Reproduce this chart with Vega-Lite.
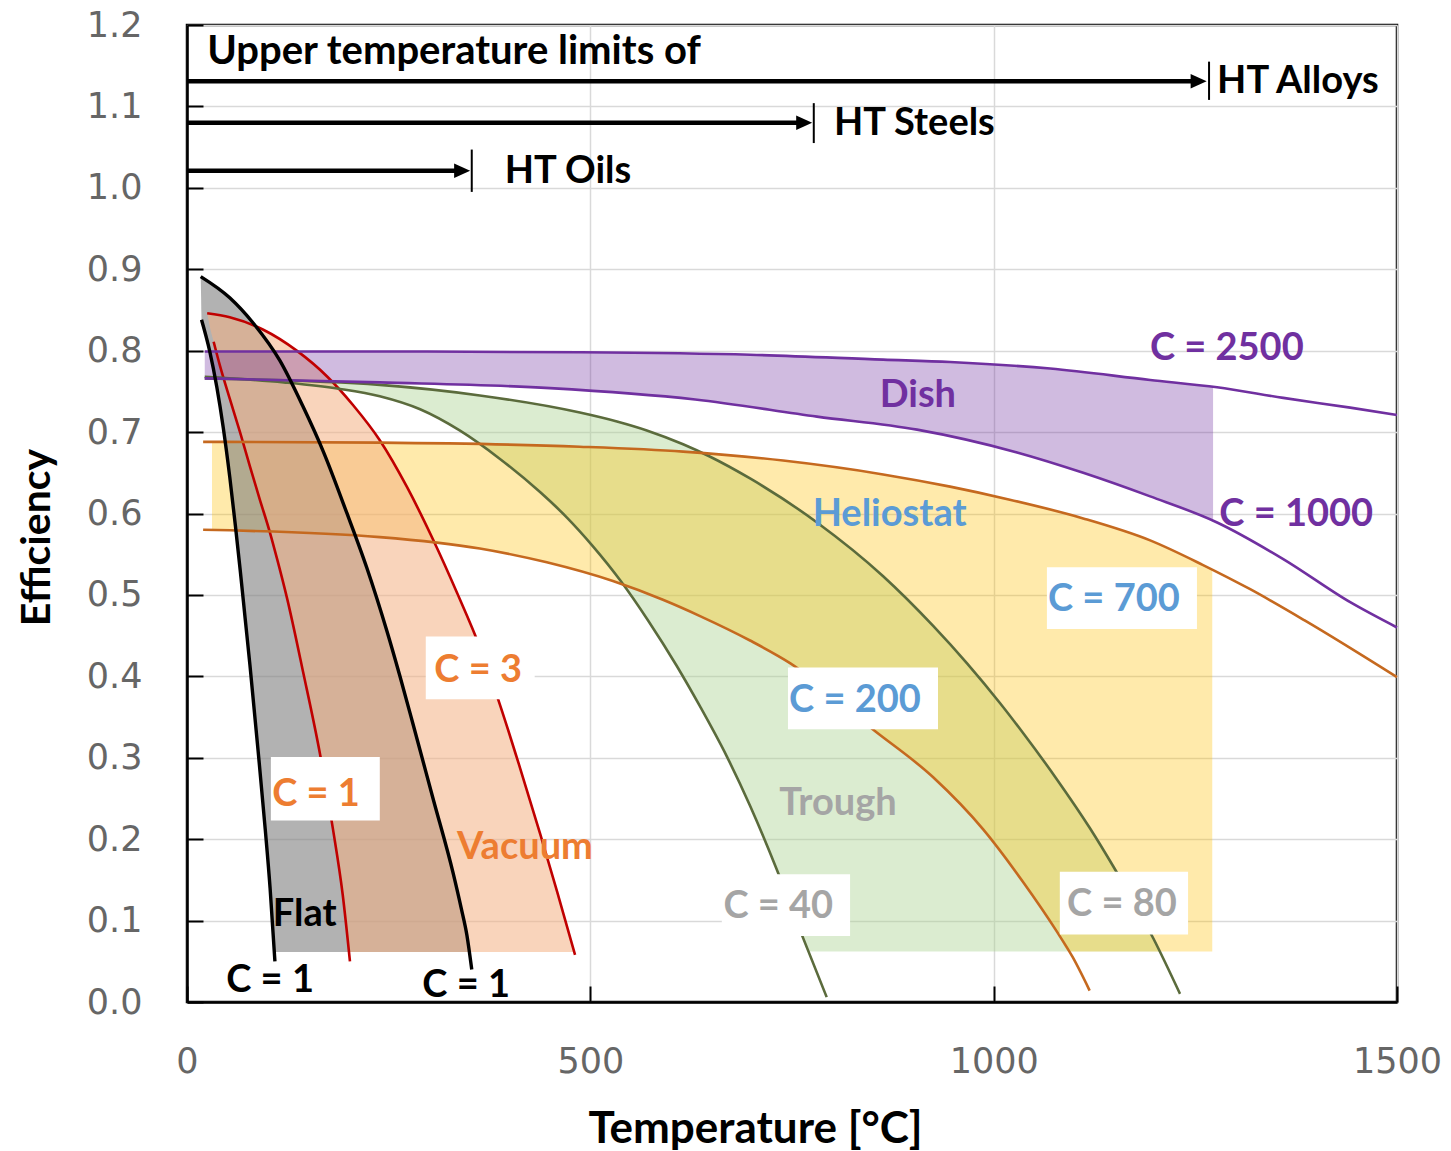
{
  "$schema": "https://vega.github.io/schema/vega-lite/v6.json",
  "autosize": {"type": "none"},
  "width": 1210,
  "height": 977,
  "padding": {"left": 187, "top": 25, "right": 54, "bottom": 149},
  "background": "white",
  "config": {
    "view": {"stroke": "#000000", "strokeWidth": 2.5},
    "axisX": {
      "tickCount": 3,
      "format": "d",
      "grid": true, "gridColor": "#d9d9d9", "gridWidth": 1.5,
      "domainColor": "#000000", "domainWidth": 2.5,
      "tickColor": "#000000", "tickWidth": 2, "tickSize": -16,
      "labelPadding": 58, "labelFont": "DejaVu Sans", "labelFontSize": 35, "labelColor": "#666666",
      "labelFlush": false, "labelOverlap": false,
      "titleFont": "Lato", "titleFontSize": 44, "titleFontWeight": "bold", "titleColor": "#000000", "titlePadding": 28,
      "titleX": 568
    },
    "axisY": {
      "tickCount": 12,
      "format": ".1f",
      "grid": true, "gridColor": "#d9d9d9", "gridWidth": 1.5,
      "domainColor": "#000000", "domainWidth": 2.5,
      "tickColor": "#000000", "tickWidth": 2, "tickSize": -16,
      "labelPadding": 61, "labelFont": "DejaVu Sans", "labelFontSize": 35, "labelColor": "#666666",
      "labelFlush": false, "labelOverlap": false,
      "titleFont": "Lato", "titleFontSize": 41, "titleFontWeight": "bold", "titleColor": "#000000", "titlePadding": 28,
      "titleY": 512
    }
  },
  "datasets": {
    "vbands": [
      {"band": "Trough", "T": 22, "lo": 0.766, "hi": 0.768},
      {"band": "Trough", "T": 120, "lo": 0.761, "hi": 0.762},
      {"band": "Trough", "T": 190, "lo": 0.753, "hi": 0.760},
      {"band": "Trough", "T": 239, "lo": 0.744, "hi": 0.758},
      {"band": "Trough", "T": 289, "lo": 0.728, "hi": 0.753},
      {"band": "Trough", "T": 338, "lo": 0.702, "hi": 0.748},
      {"band": "Trough", "T": 388, "lo": 0.667, "hi": 0.741},
      {"band": "Trough", "T": 438, "lo": 0.626, "hi": 0.732},
      {"band": "Trough", "T": 471, "lo": 0.595, "hi": 0.727},
      {"band": "Trough", "T": 503, "lo": 0.560, "hi": 0.720},
      {"band": "Trough", "T": 537, "lo": 0.518, "hi": 0.712},
      {"band": "Trough", "T": 572, "lo": 0.468, "hi": 0.701},
      {"band": "Trough", "T": 607, "lo": 0.413, "hi": 0.688},
      {"band": "Trough", "T": 636, "lo": 0.363, "hi": 0.675},
      {"band": "Trough", "T": 669, "lo": 0.302, "hi": 0.659},
      {"band": "Trough", "T": 698, "lo": 0.241, "hi": 0.643},
      {"band": "Trough", "T": 731, "lo": 0.163, "hi": 0.622},
      {"band": "Trough", "T": 760, "lo": 0.088, "hi": 0.603},
      {"band": "Trough", "T": 770.5, "lo": 0.062, "hi": 0.596},
      {"band": "Trough", "T": 781, "lo": 0.062, "hi": 0.589},
      {"band": "Trough", "T": 863, "lo": 0.062, "hi": 0.523},
      {"band": "Trough", "T": 925, "lo": 0.062, "hi": 0.462},
      {"band": "Trough", "T": 967, "lo": 0.062, "hi": 0.416},
      {"band": "Trough", "T": 1008, "lo": 0.062, "hi": 0.367},
      {"band": "Trough", "T": 1036, "lo": 0.062, "hi": 0.331},
      {"band": "Trough", "T": 1078, "lo": 0.062, "hi": 0.274},
      {"band": "Trough", "T": 1119, "lo": 0.062, "hi": 0.214},
      {"band": "Trough", "T": 1148, "lo": 0.062, "hi": 0.167},
      {"band": "Trough", "T": 1173, "lo": 0.062, "hi": 0.124},
      {"band": "Trough", "T": 1198, "lo": 0.062, "hi": 0.078},
      {"band": "Trough", "T": 1205.5, "lo": 0.062, "hi": 0.062},
      {"band": "Heliostat", "T": 31, "lo": 0.580, "hi": 0.688},
      {"band": "Heliostat", "T": 239, "lo": 0.571, "hi": 0.687},
      {"band": "Heliostat", "T": 363, "lo": 0.557, "hi": 0.6845},
      {"band": "Heliostat", "T": 446, "lo": 0.540, "hi": 0.6833},
      {"band": "Heliostat", "T": 528, "lo": 0.517, "hi": 0.6813},
      {"band": "Heliostat", "T": 590, "lo": 0.494, "hi": 0.6772},
      {"band": "Heliostat", "T": 636, "lo": 0.474, "hi": 0.6745},
      {"band": "Heliostat", "T": 698, "lo": 0.444, "hi": 0.6686},
      {"band": "Heliostat", "T": 748, "lo": 0.416, "hi": 0.6638},
      {"band": "Heliostat", "T": 850, "lo": 0.335, "hi": 0.6498},
      {"band": "Heliostat", "T": 925, "lo": 0.276, "hi": 0.6368},
      {"band": "Heliostat", "T": 987, "lo": 0.212, "hi": 0.6241},
      {"band": "Heliostat", "T": 1036, "lo": 0.148, "hi": 0.6130},
      {"band": "Heliostat", "T": 1078, "lo": 0.087, "hi": 0.6029},
      {"band": "Heliostat", "T": 1094, "lo": 0.062, "hi": 0.5988},
      {"band": "Heliostat", "T": 1111, "lo": 0.062, "hi": 0.594},
      {"band": "Heliostat", "T": 1194, "lo": 0.062, "hi": 0.567},
      {"band": "Heliostat", "T": 1259, "lo": 0.062, "hi": 0.537},
      {"band": "Heliostat", "T": 1271, "lo": 0.062, "hi": 0.531},
      {"band": "Dish", "T": 22, "lo": 0.766, "hi": 0.799},
      {"band": "Dish", "T": 239, "lo": 0.761, "hi": 0.799},
      {"band": "Dish", "T": 450, "lo": 0.754, "hi": 0.798},
      {"band": "Dish", "T": 630, "lo": 0.740, "hi": 0.796},
      {"band": "Dish", "T": 781, "lo": 0.719, "hi": 0.792},
      {"band": "Dish", "T": 905, "lo": 0.703, "hi": 0.788},
      {"band": "Dish", "T": 1029, "lo": 0.675, "hi": 0.781},
      {"band": "Dish", "T": 1111, "lo": 0.650, "hi": 0.774},
      {"band": "Dish", "T": 1194, "lo": 0.621, "hi": 0.764},
      {"band": "Dish", "T": 1272, "lo": 0.591, "hi": 0.756}
    ],
    "hbands": [
      {"band": "Flat", "E": 0.891, "L": 17, "R": 17},
      {"band": "Flat", "E": 0.865, "L": 17.5, "R": 53},
      {"band": "Flat", "E": 0.838, "L": 18, "R": 78},
      {"band": "Flat", "E": 0.800, "L": 28, "R": 106},
      {"band": "Flat", "E": 0.755, "L": 37, "R": 132},
      {"band": "Flat", "E": 0.705, "L": 45, "R": 156},
      {"band": "Flat", "E": 0.645, "L": 53, "R": 181},
      {"band": "Flat", "E": 0.585, "L": 60, "R": 204},
      {"band": "Flat", "E": 0.530, "L": 66, "R": 224},
      {"band": "Flat", "E": 0.472, "L": 72, "R": 242.5},
      {"band": "Flat", "E": 0.414, "L": 78, "R": 260},
      {"band": "Flat", "E": 0.310, "L": 88, "R": 288.7},
      {"band": "Flat", "E": 0.212, "L": 97, "R": 315.3},
      {"band": "Flat", "E": 0.140, "L": 103, "R": 334.2},
      {"band": "Flat", "E": 0.0613, "L": 108, "R": 350},
      {"band": "Vacuum", "E": 0.846, "L": 25, "R": 25},
      {"band": "Vacuum", "E": 0.841, "L": 26, "R": 53},
      {"band": "Vacuum", "E": 0.826, "L": 29, "R": 94},
      {"band": "Vacuum", "E": 0.811, "L": 33, "R": 118},
      {"band": "Vacuum", "E": 0.781, "L": 41, "R": 158.6},
      {"band": "Vacuum", "E": 0.741, "L": 53, "R": 198.7},
      {"band": "Vacuum", "E": 0.699, "L": 66, "R": 232},
      {"band": "Vacuum", "E": 0.658, "L": 78, "R": 257.8},
      {"band": "Vacuum", "E": 0.618, "L": 90, "R": 280},
      {"band": "Vacuum", "E": 0.576, "L": 103, "R": 301},
      {"band": "Vacuum", "E": 0.543, "L": 112, "R": 316.4},
      {"band": "Vacuum", "E": 0.496, "L": 124, "R": 337.5},
      {"band": "Vacuum", "E": 0.405, "L": 144, "R": 373.9},
      {"band": "Vacuum", "E": 0.304, "L": 165, "R": 407.6},
      {"band": "Vacuum", "E": 0.212, "L": 181, "R": 436},
      {"band": "Vacuum", "E": 0.132, "L": 193, "R": 460},
      {"band": "Vacuum", "E": 0.0613, "L": 200.8, "R": 480}
    ],
    "curves": [
      {"curve": "flatA", "fam": "Flat", "T": 17, "E": 0.891},
      {"curve": "flatA", "fam": "Flat", "T": 53, "E": 0.865},
      {"curve": "flatA", "fam": "Flat", "T": 82, "E": 0.834},
      {"curve": "flatA", "fam": "Flat", "T": 115, "E": 0.788},
      {"curve": "flatA", "fam": "Flat", "T": 144, "E": 0.731},
      {"curve": "flatA", "fam": "Flat", "T": 169, "E": 0.676},
      {"curve": "flatA", "fam": "Flat", "T": 198, "E": 0.601},
      {"curve": "flatA", "fam": "Flat", "T": 223, "E": 0.533},
      {"curve": "flatA", "fam": "Flat", "T": 248, "E": 0.455},
      {"curve": "flatA", "fam": "Flat", "T": 264, "E": 0.400},
      {"curve": "flatA", "fam": "Flat", "T": 280, "E": 0.342},
      {"curve": "flatA", "fam": "Flat", "T": 305, "E": 0.250},
      {"curve": "flatA", "fam": "Flat", "T": 330, "E": 0.158},
      {"curve": "flatA", "fam": "Flat", "T": 340, "E": 0.115},
      {"curve": "flatA", "fam": "Flat", "T": 347, "E": 0.082},
      {"curve": "flatA", "fam": "Flat", "T": 353, "E": 0.040},
      {"curve": "flatB", "fam": "Flat", "T": 18, "E": 0.838},
      {"curve": "flatB", "fam": "Flat", "T": 28, "E": 0.800},
      {"curve": "flatB", "fam": "Flat", "T": 37, "E": 0.755},
      {"curve": "flatB", "fam": "Flat", "T": 45, "E": 0.705},
      {"curve": "flatB", "fam": "Flat", "T": 53, "E": 0.645},
      {"curve": "flatB", "fam": "Flat", "T": 60, "E": 0.585},
      {"curve": "flatB", "fam": "Flat", "T": 66, "E": 0.530},
      {"curve": "flatB", "fam": "Flat", "T": 72, "E": 0.472},
      {"curve": "flatB", "fam": "Flat", "T": 78, "E": 0.414},
      {"curve": "flatB", "fam": "Flat", "T": 88, "E": 0.310},
      {"curve": "flatB", "fam": "Flat", "T": 97, "E": 0.212},
      {"curve": "flatB", "fam": "Flat", "T": 103, "E": 0.140},
      {"curve": "flatB", "fam": "Flat", "T": 109, "E": 0.050},
      {"curve": "vacL", "fam": "Vacuum", "T": 33, "E": 0.811},
      {"curve": "vacL", "fam": "Vacuum", "T": 41, "E": 0.781},
      {"curve": "vacL", "fam": "Vacuum", "T": 53, "E": 0.741},
      {"curve": "vacL", "fam": "Vacuum", "T": 66, "E": 0.699},
      {"curve": "vacL", "fam": "Vacuum", "T": 78, "E": 0.658},
      {"curve": "vacL", "fam": "Vacuum", "T": 90, "E": 0.618},
      {"curve": "vacL", "fam": "Vacuum", "T": 103, "E": 0.576},
      {"curve": "vacL", "fam": "Vacuum", "T": 112, "E": 0.543},
      {"curve": "vacL", "fam": "Vacuum", "T": 124, "E": 0.496},
      {"curve": "vacL", "fam": "Vacuum", "T": 144, "E": 0.405},
      {"curve": "vacL", "fam": "Vacuum", "T": 165, "E": 0.304},
      {"curve": "vacL", "fam": "Vacuum", "T": 181, "E": 0.212},
      {"curve": "vacL", "fam": "Vacuum", "T": 193, "E": 0.132},
      {"curve": "vacL", "fam": "Vacuum", "T": 202, "E": 0.050},
      {"curve": "vacR", "fam": "Vacuum", "T": 25, "E": 0.846},
      {"curve": "vacR", "fam": "Vacuum", "T": 53, "E": 0.841},
      {"curve": "vacR", "fam": "Vacuum", "T": 94, "E": 0.826},
      {"curve": "vacR", "fam": "Vacuum", "T": 136, "E": 0.800},
      {"curve": "vacR", "fam": "Vacuum", "T": 174, "E": 0.768},
      {"curve": "vacR", "fam": "Vacuum", "T": 206, "E": 0.733},
      {"curve": "vacR", "fam": "Vacuum", "T": 239, "E": 0.690},
      {"curve": "vacR", "fam": "Vacuum", "T": 273, "E": 0.632},
      {"curve": "vacR", "fam": "Vacuum", "T": 305, "E": 0.568},
      {"curve": "vacR", "fam": "Vacuum", "T": 335, "E": 0.502},
      {"curve": "vacR", "fam": "Vacuum", "T": 363, "E": 0.436},
      {"curve": "vacR", "fam": "Vacuum", "T": 388, "E": 0.365},
      {"curve": "vacR", "fam": "Vacuum", "T": 413, "E": 0.287},
      {"curve": "vacR", "fam": "Vacuum", "T": 438, "E": 0.206},
      {"curve": "vacR", "fam": "Vacuum", "T": 459, "E": 0.135},
      {"curve": "vacR", "fam": "Vacuum", "T": 481, "E": 0.058},
      {"curve": "tro40", "fam": "Trough", "T": 22, "E": 0.768},
      {"curve": "tro40", "fam": "Trough", "T": 120, "E": 0.761},
      {"curve": "tro40", "fam": "Trough", "T": 190, "E": 0.753},
      {"curve": "tro40", "fam": "Trough", "T": 239, "E": 0.744},
      {"curve": "tro40", "fam": "Trough", "T": 289, "E": 0.728},
      {"curve": "tro40", "fam": "Trough", "T": 338, "E": 0.702},
      {"curve": "tro40", "fam": "Trough", "T": 388, "E": 0.667},
      {"curve": "tro40", "fam": "Trough", "T": 438, "E": 0.626},
      {"curve": "tro40", "fam": "Trough", "T": 471, "E": 0.595},
      {"curve": "tro40", "fam": "Trough", "T": 503, "E": 0.560},
      {"curve": "tro40", "fam": "Trough", "T": 537, "E": 0.518},
      {"curve": "tro40", "fam": "Trough", "T": 572, "E": 0.468},
      {"curve": "tro40", "fam": "Trough", "T": 607, "E": 0.413},
      {"curve": "tro40", "fam": "Trough", "T": 636, "E": 0.363},
      {"curve": "tro40", "fam": "Trough", "T": 669, "E": 0.302},
      {"curve": "tro40", "fam": "Trough", "T": 698, "E": 0.241},
      {"curve": "tro40", "fam": "Trough", "T": 731, "E": 0.163},
      {"curve": "tro40", "fam": "Trough", "T": 760, "E": 0.088},
      {"curve": "tro40", "fam": "Trough", "T": 793, "E": 0.006},
      {"curve": "tro80", "fam": "Trough", "T": 22, "E": 0.766},
      {"curve": "tro80", "fam": "Trough", "T": 239, "E": 0.758},
      {"curve": "tro80", "fam": "Trough", "T": 363, "E": 0.745},
      {"curve": "tro80", "fam": "Trough", "T": 487, "E": 0.724},
      {"curve": "tro80", "fam": "Trough", "T": 533, "E": 0.713},
      {"curve": "tro80", "fam": "Trough", "T": 570, "E": 0.702},
      {"curve": "tro80", "fam": "Trough", "T": 615, "E": 0.685},
      {"curve": "tro80", "fam": "Trough", "T": 648, "E": 0.670},
      {"curve": "tro80", "fam": "Trough", "T": 698, "E": 0.643},
      {"curve": "tro80", "fam": "Trough", "T": 781, "E": 0.589},
      {"curve": "tro80", "fam": "Trough", "T": 863, "E": 0.523},
      {"curve": "tro80", "fam": "Trough", "T": 925, "E": 0.462},
      {"curve": "tro80", "fam": "Trough", "T": 967, "E": 0.416},
      {"curve": "tro80", "fam": "Trough", "T": 1008, "E": 0.367},
      {"curve": "tro80", "fam": "Trough", "T": 1036, "E": 0.331},
      {"curve": "tro80", "fam": "Trough", "T": 1078, "E": 0.274},
      {"curve": "tro80", "fam": "Trough", "T": 1119, "E": 0.214},
      {"curve": "tro80", "fam": "Trough", "T": 1148, "E": 0.167},
      {"curve": "tro80", "fam": "Trough", "T": 1173, "E": 0.124},
      {"curve": "tro80", "fam": "Trough", "T": 1198, "E": 0.078},
      {"curve": "tro80", "fam": "Trough", "T": 1231, "E": 0.010},
      {"curve": "hel700", "fam": "Heliostat", "T": 20, "E": 0.688},
      {"curve": "hel700", "fam": "Heliostat", "T": 239, "E": 0.687},
      {"curve": "hel700", "fam": "Heliostat", "T": 487, "E": 0.682},
      {"curve": "hel700", "fam": "Heliostat", "T": 615, "E": 0.676},
      {"curve": "hel700", "fam": "Heliostat", "T": 739, "E": 0.665},
      {"curve": "hel700", "fam": "Heliostat", "T": 863, "E": 0.648},
      {"curve": "hel700", "fam": "Heliostat", "T": 946, "E": 0.633},
      {"curve": "hel700", "fam": "Heliostat", "T": 1020, "E": 0.617},
      {"curve": "hel700", "fam": "Heliostat", "T": 1111, "E": 0.594},
      {"curve": "hel700", "fam": "Heliostat", "T": 1194, "E": 0.567},
      {"curve": "hel700", "fam": "Heliostat", "T": 1259, "E": 0.537},
      {"curve": "hel700", "fam": "Heliostat", "T": 1318, "E": 0.507},
      {"curve": "hel700", "fam": "Heliostat", "T": 1385, "E": 0.469},
      {"curve": "hel700", "fam": "Heliostat", "T": 1500, "E": 0.399},
      {"curve": "hel200", "fam": "Heliostat", "T": 20, "E": 0.580},
      {"curve": "hel200", "fam": "Heliostat", "T": 239, "E": 0.571},
      {"curve": "hel200", "fam": "Heliostat", "T": 363, "E": 0.557},
      {"curve": "hel200", "fam": "Heliostat", "T": 446, "E": 0.540},
      {"curve": "hel200", "fam": "Heliostat", "T": 528, "E": 0.517},
      {"curve": "hel200", "fam": "Heliostat", "T": 590, "E": 0.494},
      {"curve": "hel200", "fam": "Heliostat", "T": 636, "E": 0.474},
      {"curve": "hel200", "fam": "Heliostat", "T": 698, "E": 0.444},
      {"curve": "hel200", "fam": "Heliostat", "T": 748, "E": 0.416},
      {"curve": "hel200", "fam": "Heliostat", "T": 850, "E": 0.335},
      {"curve": "hel200", "fam": "Heliostat", "T": 925, "E": 0.276},
      {"curve": "hel200", "fam": "Heliostat", "T": 987, "E": 0.212},
      {"curve": "hel200", "fam": "Heliostat", "T": 1036, "E": 0.148},
      {"curve": "hel200", "fam": "Heliostat", "T": 1078, "E": 0.087},
      {"curve": "hel200", "fam": "Heliostat", "T": 1098, "E": 0.055},
      {"curve": "hel200", "fam": "Heliostat", "T": 1119, "E": 0.014},
      {"curve": "dish2500", "fam": "Dish", "T": 22, "E": 0.799},
      {"curve": "dish2500", "fam": "Dish", "T": 239, "E": 0.799},
      {"curve": "dish2500", "fam": "Dish", "T": 487, "E": 0.798},
      {"curve": "dish2500", "fam": "Dish", "T": 698, "E": 0.795},
      {"curve": "dish2500", "fam": "Dish", "T": 863, "E": 0.789},
      {"curve": "dish2500", "fam": "Dish", "T": 946, "E": 0.786},
      {"curve": "dish2500", "fam": "Dish", "T": 1070, "E": 0.778},
      {"curve": "dish2500", "fam": "Dish", "T": 1194, "E": 0.764},
      {"curve": "dish2500", "fam": "Dish", "T": 1277, "E": 0.755},
      {"curve": "dish2500", "fam": "Dish", "T": 1359, "E": 0.742},
      {"curve": "dish2500", "fam": "Dish", "T": 1442, "E": 0.730},
      {"curve": "dish2500", "fam": "Dish", "T": 1500, "E": 0.721},
      {"curve": "dish1000", "fam": "Dish", "T": 22, "E": 0.766},
      {"curve": "dish1000", "fam": "Dish", "T": 239, "E": 0.761},
      {"curve": "dish1000", "fam": "Dish", "T": 450, "E": 0.754},
      {"curve": "dish1000", "fam": "Dish", "T": 630, "E": 0.740},
      {"curve": "dish1000", "fam": "Dish", "T": 781, "E": 0.719},
      {"curve": "dish1000", "fam": "Dish", "T": 905, "E": 0.703},
      {"curve": "dish1000", "fam": "Dish", "T": 1029, "E": 0.675},
      {"curve": "dish1000", "fam": "Dish", "T": 1111, "E": 0.650},
      {"curve": "dish1000", "fam": "Dish", "T": 1194, "E": 0.621},
      {"curve": "dish1000", "fam": "Dish", "T": 1277, "E": 0.589},
      {"curve": "dish1000", "fam": "Dish", "T": 1359, "E": 0.544},
      {"curve": "dish1000", "fam": "Dish", "T": 1442, "E": 0.491},
      {"curve": "dish1000", "fam": "Dish", "T": 1500, "E": 0.460}
    ],
    "arrows": [
      {"limit": "HT Alloys", "T0": 0, "Ts": 1252, "Tt": 1264, "Tk": 1267, "E": 1.131, "Ek1": 1.108, "Ek2": 1.155},
      {"limit": "HT Steels", "T0": 0, "Ts": 763, "Tt": 775, "Tk": 777, "E": 1.080, "Ek1": 1.055, "Ek2": 1.104},
      {"limit": "HT Oils", "T0": 0, "Ts": 339, "Tt": 351, "Tk": 353, "E": 1.021, "Ek1": 0.995, "Ek2": 1.047}
    ],
    "labels": [
      {"text": "Upper temperature limits of", "grp": "Limits", "kind": "heading", "T": 25, "E": 1.169},
      {"text": "HT Alloys", "grp": "Limits", "kind": "left", "T": 1277, "E": 1.1325},
      {"text": "HT Steels", "grp": "Limits", "kind": "left", "T": 802, "E": 1.081},
      {"text": "HT Oils", "grp": "Limits", "kind": "left", "T": 394, "E": 1.022},
      {"text": "C = 2500", "grp": "Dish", "kind": "center", "T": 1289, "E": 0.806},
      {"text": "Dish", "grp": "Dish", "kind": "center", "T": 906, "E": 0.748},
      {"text": "C = 1000", "grp": "Dish", "kind": "center", "T": 1375, "E": 0.602},
      {"text": "Heliostat", "grp": "Heliostat", "kind": "center", "T": 871, "E": 0.602},
      {"text": "C = 700", "grp": "Heliostat", "kind": "center", "T": 1149, "E": 0.498},
      {"text": "C = 200", "grp": "Heliostat", "kind": "center", "T": 828, "E": 0.373},
      {"text": "Trough", "grp": "Trough", "kind": "center", "T": 807, "E": 0.247},
      {"text": "C = 40", "grp": "Trough", "kind": "center", "T": 733, "E": 0.120},
      {"text": "C = 80", "grp": "Trough", "kind": "center", "T": 1159, "E": 0.123},
      {"text": "C = 3", "grp": "Vacuum", "kind": "center", "T": 361, "E": 0.410},
      {"text": "C = 1", "grp": "Vacuum", "kind": "center", "T": 160, "E": 0.258},
      {"text": "Vacuum", "grp": "Vacuum", "kind": "center", "T": 419, "E": 0.193},
      {"text": "Flat", "grp": "Flat", "kind": "center", "T": 146, "E": 0.110},
      {"text": "C = 1", "grp": "Flat", "kind": "center", "T": 103, "E": 0.029},
      {"text": "C = 1", "grp": "Flat", "kind": "center", "T": 346, "E": 0.023}
    ],
    "boxes": [
      {"label": "C = 700", "T1": 1066, "T2": 1252, "E1": 0.458, "E2": 0.534},
      {"label": "C = 200", "T1": 745, "T2": 931, "E1": 0.335, "E2": 0.411},
      {"label": "C = 40", "T1": 663, "T2": 822, "E1": 0.081, "E2": 0.157},
      {"label": "C = 80", "T1": 1082, "T2": 1241, "E1": 0.083, "E2": 0.160},
      {"label": "C = 3", "T1": 296, "T2": 431, "E1": 0.372, "E2": 0.449},
      {"label": "C = 1", "T1": 104, "T2": 239, "E1": 0.223, "E2": 0.301}
    ]
  },
  "layer": [
    {
      "data": {"name": "vbands"},
      "transform": [{"filter": "datum.band === 'Trough'"}],
      "mark": {"type": "area", "color": "#a9d18e", "opacity": 0.42, "interpolate": "monotone"},
      "encoding": {
        "x": {"field": "T", "type": "quantitative", "title": "Temperature [°C]", "scale": {"domain": [0, 1500], "nice": false, "zero": false}},
        "y": {"field": "lo", "type": "quantitative", "title": "Efficiency", "stack": null, "scale": {"domain": [0, 1.2], "nice": false, "zero": false}},
        "y2": {"field": "hi"}
      }
    },
    {
      "data": {"name": "vbands"},
      "transform": [{"filter": "datum.band === 'Heliostat'"}],
      "mark": {"type": "area", "color": "#ffc000", "opacity": 0.33, "interpolate": "monotone"},
      "encoding": {
        "x": {"field": "T", "type": "quantitative", "title": "Temperature [°C]", "scale": {"domain": [0, 1500], "nice": false, "zero": false}},
        "y": {"field": "lo", "type": "quantitative", "title": "Efficiency", "stack": null, "scale": {"domain": [0, 1.2], "nice": false, "zero": false}},
        "y2": {"field": "hi"}
      }
    },
    {
      "data": {"name": "hbands"},
      "transform": [{"filter": "datum.band === 'Flat'"}],
      "mark": {"type": "area", "orient": "horizontal", "color": "#7f7f7f", "opacity": 0.6, "interpolate": "monotone"},
      "encoding": {
        "y": {"field": "E", "type": "quantitative", "title": "Efficiency", "scale": {"domain": [0, 1.2], "nice": false, "zero": false}},
        "x": {"field": "L", "type": "quantitative", "title": "Temperature [°C]", "stack": null, "scale": {"domain": [0, 1500], "nice": false, "zero": false}},
        "x2": {"field": "R"}
      }
    },
    {
      "data": {"name": "hbands"},
      "transform": [{"filter": "datum.band === 'Vacuum'"}],
      "mark": {"type": "area", "orient": "horizontal", "color": "#f4b183", "opacity": 0.55, "interpolate": "monotone"},
      "encoding": {
        "y": {"field": "E", "type": "quantitative", "title": "Efficiency", "scale": {"domain": [0, 1.2], "nice": false, "zero": false}},
        "x": {"field": "L", "type": "quantitative", "title": "Temperature [°C]", "stack": null, "scale": {"domain": [0, 1500], "nice": false, "zero": false}},
        "x2": {"field": "R"}
      }
    },
    {
      "data": {"name": "vbands"},
      "transform": [{"filter": "datum.band === 'Dish'"}],
      "mark": {"type": "area", "color": "#7030a0", "opacity": 0.33, "interpolate": "monotone"},
      "encoding": {
        "x": {"field": "T", "type": "quantitative", "title": "Temperature [°C]", "scale": {"domain": [0, 1500], "nice": false, "zero": false}},
        "y": {"field": "lo", "type": "quantitative", "title": "Efficiency", "stack": null, "scale": {"domain": [0, 1.2], "nice": false, "zero": false}},
        "y2": {"field": "hi"}
      }
    },
    {
      "data": {"name": "curves"},
      "transform": [{"filter": "datum.fam !== 'Flat'"}],
      "mark": {"type": "line", "strokeWidth": 2.6, "interpolate": "monotone"},
      "encoding": {
        "x": {"field": "T", "type": "quantitative", "title": "Temperature [°C]", "scale": {"domain": [0, 1500], "nice": false, "zero": false}},
        "y": {"field": "E", "type": "quantitative", "title": "Efficiency", "scale": {"domain": [0, 1.2], "nice": false, "zero": false}},
        "detail": {"field": "curve"},
        "stroke": {"field": "fam", "type": "nominal", "legend": null, "scale": {"domain": ["Vacuum", "Trough", "Heliostat", "Dish"], "range": ["#c00000", "#5b6b3c", "#c5691f", "#7030a0"]}}
      }
    },
    {
      "data": {"name": "curves"},
      "transform": [{"filter": "datum.fam === 'Flat'"}],
      "mark": {"type": "line", "strokeWidth": 3.4, "color": "#000000", "interpolate": "monotone"},
      "encoding": {
        "x": {"field": "T", "type": "quantitative", "title": "Temperature [°C]", "scale": {"domain": [0, 1500], "nice": false, "zero": false}},
        "y": {"field": "E", "type": "quantitative", "title": "Efficiency", "scale": {"domain": [0, 1.2], "nice": false, "zero": false}},
        "detail": {"field": "curve"}
      }
    },
    {
      "data": {"name": "boxes"},
      "mark": {"type": "rect", "color": "#ffffff", "opacity": 1},
      "encoding": {
        "x": {"field": "T1", "type": "quantitative", "title": "Temperature [°C]", "scale": {"domain": [0, 1500], "nice": false, "zero": false}},
        "x2": {"field": "T2"},
        "y": {"field": "E1", "type": "quantitative", "title": "Efficiency", "scale": {"domain": [0, 1.2], "nice": false, "zero": false}},
        "y2": {"field": "E2"}
      }
    },
    {
      "data": {"name": "arrows"},
      "mark": {"type": "rule", "color": "#000000", "strokeWidth": 4.5},
      "encoding": {
        "x": {"field": "T0", "type": "quantitative", "title": "Temperature [°C]", "scale": {"domain": [0, 1500], "nice": false, "zero": false}},
        "x2": {"field": "Ts"},
        "y": {"field": "E", "type": "quantitative", "title": "Efficiency", "scale": {"domain": [0, 1.2], "nice": false, "zero": false}}
      }
    },
    {
      "data": {"name": "arrows"},
      "mark": {"type": "point", "shape": "M -1 -0.45 L 0 0 L -1 0.45 Z", "filled": true, "color": "#000000", "opacity": 1, "size": 1024, "strokeWidth": 0},
      "encoding": {
        "x": {"field": "Tt", "type": "quantitative", "title": "Temperature [°C]", "scale": {"domain": [0, 1500], "nice": false, "zero": false}},
        "y": {"field": "E", "type": "quantitative", "title": "Efficiency", "scale": {"domain": [0, 1.2], "nice": false, "zero": false}}
      }
    },
    {
      "data": {"name": "arrows"},
      "mark": {"type": "rule", "color": "#000000", "strokeWidth": 2},
      "encoding": {
        "x": {"field": "Tk", "type": "quantitative", "title": "Temperature [°C]", "scale": {"domain": [0, 1500], "nice": false, "zero": false}},
        "y": {"field": "Ek1", "type": "quantitative", "title": "Efficiency", "scale": {"domain": [0, 1.2], "nice": false, "zero": false}},
        "y2": {"field": "Ek2"}
      }
    },
    {
      "data": {"name": "labels"},
      "transform": [{"filter": "datum.kind === 'heading'"}],
      "mark": {"type": "text", "align": "left", "baseline": "middle", "dy": 2, "font": "Lato", "fontWeight": "bold", "fontSize": 40, "color": "#000000"},
      "encoding": {
        "x": {"field": "T", "type": "quantitative", "title": "Temperature [°C]", "scale": {"domain": [0, 1500], "nice": false, "zero": false}},
        "y": {"field": "E", "type": "quantitative", "title": "Efficiency", "scale": {"domain": [0, 1.2], "nice": false, "zero": false}},
        "text": {"field": "text"}
      }
    },
    {
      "data": {"name": "labels"},
      "transform": [{"filter": "datum.kind === 'left'"}],
      "mark": {"type": "text", "align": "left", "baseline": "middle", "dy": 2, "font": "Lato", "fontWeight": "bold", "fontSize": 38, "color": "#000000"},
      "encoding": {
        "x": {"field": "T", "type": "quantitative", "title": "Temperature [°C]", "scale": {"domain": [0, 1500], "nice": false, "zero": false}},
        "y": {"field": "E", "type": "quantitative", "title": "Efficiency", "scale": {"domain": [0, 1.2], "nice": false, "zero": false}},
        "text": {"field": "text"}
      }
    },
    {
      "data": {"name": "labels"},
      "transform": [{"filter": "datum.kind === 'center'"}],
      "mark": {"type": "text", "align": "center", "baseline": "middle", "dy": 3, "font": "Lato", "fontWeight": "bold", "fontSize": 38},
      "encoding": {
        "x": {"field": "T", "type": "quantitative", "title": "Temperature [°C]", "scale": {"domain": [0, 1500], "nice": false, "zero": false}},
        "y": {"field": "E", "type": "quantitative", "title": "Efficiency", "scale": {"domain": [0, 1.2], "nice": false, "zero": false}},
        "text": {"field": "text"},
        "color": {"field": "grp", "type": "nominal", "legend": null, "scale": {"domain": ["Dish", "Heliostat", "Trough", "Vacuum", "Flat"], "range": ["#7030a0", "#5b9bd5", "#a5a5a5", "#ed7d31", "#000000"]}}
      }
    }
  ]
}
